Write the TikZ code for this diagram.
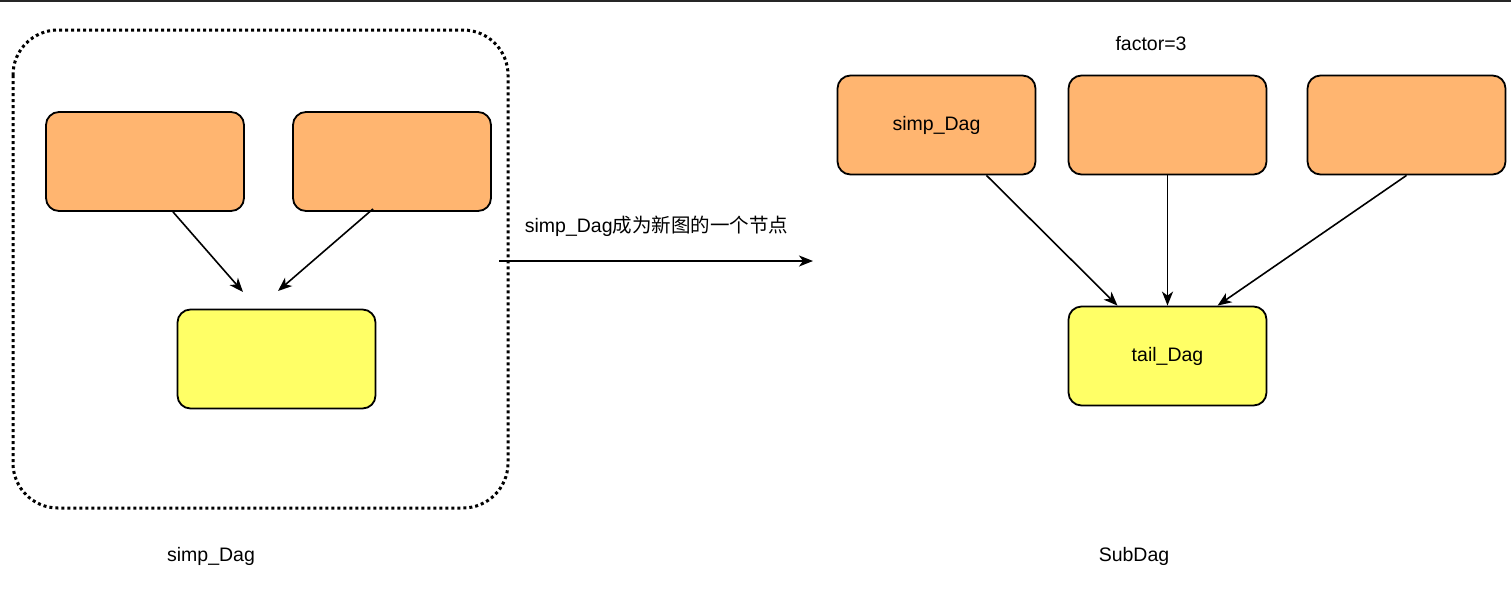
\documentclass[tikz,border=0pt]{standalone}
\usepackage{fontspec}
\setmainfont{Liberation Sans}
\newfontfamily\cjk{Noto Sans CJK SC}
\usetikzlibrary{arrows.meta,calc}
\definecolor{dagorange}{HTML}{FFB570}
\definecolor{dagyellow}{HTML}{FFFF66}
\tikzset{
  box/.style={draw=black, line width=1.8pt, rounded corners=13pt, minimum width=198pt, minimum height=99pt, inner sep=0pt, font=\fontsize{19.5}{22}\selectfont},
  obox/.style={box, fill=dagorange},
  ybox/.style={box, fill=dagyellow},
  conn/.style={draw=black, line width=1.6pt, -{Stealth[length=14pt,width=11pt,inset=4pt]}},
  lbl/.style={inner sep=0pt, font=\fontsize{19.5}{22}\selectfont},
  dotframe/.style={draw=black, line width=3pt, dash pattern=on 3pt off 3pt, rounded corners=45pt}
}
\begin{document}
\begin{tikzpicture}[x=1pt,y=-1pt]
\useasboundingbox (0,0) rectangle (1511,590);
\fill[white] (0,0) rectangle (1511,590);
\fill[black!85] (0,0) rectangle (1511,1.5);
% left group
\draw[dotframe] (13,30) rectangle (508,508);
\node[obox] (o1) at (145,161.5) {};
\node[obox] (o2) at (392,161.5) {};
\node[ybox] (y1) at (276.5,359) {};
\coordinate (e1) at (243,292);
\coordinate (e2) at (278,291);
\draw[conn] ([xshift=28pt]o1.south) -- (e1);
\draw[conn] ([xshift=-19pt,yshift=3pt]o2.south) -- (e2);
\node[lbl] (lname) at (211,556) {simp\_Dag};
% main arrow
\coordinate (ms) at (499,261);
\coordinate (me) at (813,261);
\draw[conn] (ms) -- (me);
\node[lbl] (mlabel) at (656.5,226) {simp\_Dag{\cjk 成为新图的一个节点}};
% right group
\node[lbl] (factor) at (1151,44) {factor=3};
\node[obox] (a) at (936.5,125) {simp\_Dag};
\node[obox] (b) at (1167.5,125) {};
\node[obox] (c) at (1406.5,125) {};
\node[ybox] (t) at (1167.5,356) {tail\_Dag};
\draw[conn] ([xshift=50pt]a.south) -- ([xshift=-50pt]t.north);
\draw[conn] (b.south) -- (t.north);
\draw[conn] (c.south) -- ([xshift=50pt]t.north);
\node[lbl] (rname) at (1134,556) {SubDag};
\end{tikzpicture}
\end{document}
